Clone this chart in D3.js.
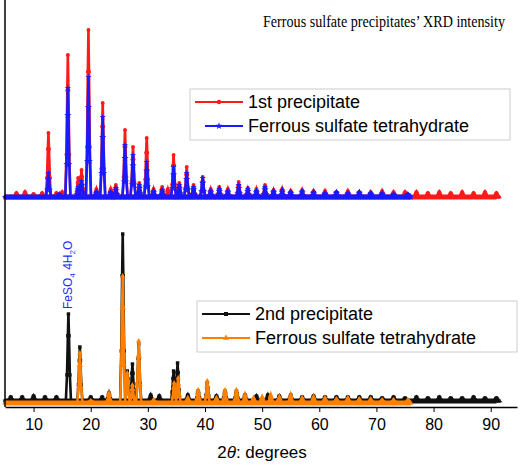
<!DOCTYPE html>
<html><head><meta charset="utf-8">
<script src="https://cdn.jsdelivr.net/npm/d3@7"></script>
<style>body{margin:0;background:#fff}</style>
</head><body>
<svg id="chart" width="520" height="467"></svg>
<script>
// peaks: [2theta, height above baseline]
var redPeaks = [[7,4],[8.5,5],[10,3],[11.5,4],[12.6,64],[14,4],[15,5],[16,142],[17.8,19],[18.4,27],[19.6,167],
  [21,8],[22.1,94],[23.5,8],[24.4,12],[26,67],[27.4,50],[28.5,14],[29.8,59],[31,8],[32.5,10],[33.5,8],[34.5,42],
  [35.5,14],[36.8,30],[38,12],[39.6,20],[41,8],[42.5,10],[44,8],[45.9,15],[47.5,9],[49,8],[50.5,12],[52,7],
  [53.5,8],[55,6],[57,7],[59,6],[61,6],[63,5],[65,6],[67,5],[69,5],[71,6],[73,5],[75,5],[77,5],[79,4],
  [81,5],[83,4],[85,5],[87,4],[89,5],[91,4]];
var bluePeaks = [[12.6,24],[14.5,3],[16,109],[17.8,10],[18.4,16],[19.6,120],[21,5],[22.1,80],[23.5,5],[24.4,9],
  [26,52],[27.4,42],[28.5,12],[29.8,35],[31,6],[32.5,7],[34.5,30],[35.5,12],[36.8,24],[38,10],[39.6,19],
  [41,6],[42.5,8],[44,6],[45.9,12],[47.5,8],[49,6],[50.5,10],[52,6],[53.5,7],[55,5],[57,6],[59,5],[61,4],
  [63,5],[65,4],[67,5],[69,4],[71,4],[73,3],[75.5,3]];
var blackPeaks = [[6,4],[8,4],[10,5],[12,4],[14,4],[16.1,87],[18.1,54],[20,4],[22,4],[23.2,8],[25.6,167],
  [26.4,30],[27.3,37],[28.4,57],[30.5,6],[32,5],[34.5,30],[35.2,38],[37,6],[38.8,10],[40.4,18],[42,5],
  [43.5,10],[45.5,10],[47,6],[49,5],[51,6],[53,5],[55,6],[57,4],[59,5],[61,4],[63,4],[65,4],[67,4],
  [69,4],[71,3],[73,4],[75,3],[77,4],[79,3],[81,4],[83,3],[85,3],[87,4],[89,3],[91,3]];
var orangePeaks = [[18.1,50],[20,2],[23.2,10],[25.6,127],[26.4,30],[27.3,18],[28.4,62],[31,3],[34.6,20],[35.3,25],
  [37,5],[38.8,13],[40.4,22],[42,5],[43.5,13],[45.5,13],[47,8],[48.5,5],[50,6],[51.5,8],[53,6],[55,8],
  [57,5],[59,6],[61,5],[63,4],[65,5],[67,4],[69,4],[71,3],[73,3],[75.5,3]];
var xStart = {red:5, blue:5, black:5, orange:5};
var xEnd = {red:91, blue:76, black:91, orange:76};
var xTicks = [10,20,30,40,50,60,70,80,90];

var svg = d3.select('#chart');
var x = d3.scaleLinear().domain([5, 94.6]).range([5, 517]);
var y = d3.scaleLinear().domain([0, 400]).range([407, 7]);

function series(peaks, x0, x1, base) {
  var pts = [[x0, base]];
  peaks.forEach(function (p) {
    pts.push([p[0] - 0.45, base], [p[0] - 0.25, base + p[1] * 0.3], [p[0] - 0.1, base + p[1] * 0.75],
             [p[0], base + p[1]], [p[0] + 0.1, base + p[1] * 0.75], [p[0] + 0.25, base + p[1] * 0.3],
             [p[0] + 0.45, base]);
  });
  pts.push([x1, base]);
  return pts;
}
var line = d3.line().x(function (d) { return x(d[0]); }).y(function (d) { return y(d[1]); });

function draw(pts, color, marker) {
  svg.append('path').attr('d', line(pts)).attr('fill', 'none')
    .attr('stroke', color).attr('stroke-width', 2.6);
  svg.append('path').attr('d', line([pts[0], pts[pts.length - 1]])).attr('fill', 'none')
    .attr('stroke', color).attr('stroke-width', 5);
  var sym = d3.symbol().type(marker).size(12);
  svg.append('g').selectAll('path').data(pts).enter().append('path')
    .attr('d', sym).attr('fill', color)
    .attr('transform', function (d) { return 'translate(' + x(d[0]) + ',' + y(d[1]) + ')'; });
}
draw(series(redPeaks, xStart.red, xEnd.red, 210), '#ff1a1a', d3.symbolCircle);
draw(series(bluePeaks, xStart.blue, xEnd.blue, 210), '#1a1aff', d3.symbolStar);
draw(series(blackPeaks, xStart.black, xEnd.black, 6), '#111', d3.symbolSquare);
draw(series(orangePeaks, xStart.orange, xEnd.orange, 4), '#ff8000', d3.symbolTriangle);

// axes
svg.append('g').attr('transform', 'translate(0,407)')
  .call(d3.axisBottom(x).tickValues(xTicks).tickSize(5).tickSizeOuter(0))
  .call(function (g) {
    g.select('.domain').attr('stroke-width', 1.5);
    g.selectAll('text').attr('font-family', 'Liberation Sans, Arial').attr('font-size', 16).attr('dy', '0.95em');
  });
svg.append('line').attr('x1', 5).attr('x2', 5).attr('y1', 0).attr('y2', 407)
  .attr('stroke', '#000').attr('stroke-width', 1.5);

svg.append('text').attr('x', 263).attr('y', 27).attr('font-family', "'Liberation Serif', 'Times New Roman', serif")
  .attr('font-size', 17).attr('textLength', 242).attr('lengthAdjust', 'spacingAndGlyphs')
  .text('Ferrous sulfate precipitates’ XRD intensity');

var xl = svg.append('text').attr('x', 262).attr('y', 458).attr('text-anchor', 'middle')
  .attr('font-family', 'Liberation Sans, Arial').attr('font-size', 17);
xl.append('tspan').text('2');
xl.append('tspan').attr('font-style', 'italic').text('θ');
xl.append('tspan').text(': degrees');

svg.append('text').attr('transform', 'translate(72,309) rotate(-90)')
  .attr('font-family', 'Liberation Sans, Arial').attr('font-size', 12).attr('fill', '#2a2aff')
  .html('FeSO<tspan font-size="8" dy="3">4</tspan><tspan dy="-3"> 4H</tspan><tspan font-size="8" dy="3">2</tspan><tspan dy="-3">O</tspan>');

function legend(x0, y0, w, items) {
  var g = svg.append('g');
  g.append('rect').attr('x', x0).attr('y', y0).attr('width', w).attr('height', 51)
    .attr('fill', '#fff').attr('stroke', '#ccc');
  items.forEach(function (it, i) {
    var yy = y0 + 13 + i * 24;
    g.append('line').attr('x1', x0 + (it.indent || 5)).attr('x2', x0 + 53).attr('y1', yy).attr('y2', yy)
      .attr('stroke', it.color).attr('stroke-width', 2.2);
    g.append('path').attr('d', d3.symbol().type(it.marker).size(16)())
      .attr('transform', 'translate(' + (x0 + 29) + ',' + yy + ')').attr('fill', it.color);
    g.append('text').attr('x', x0 + 58).attr('y', yy + 6).attr('font-family', 'Liberation Sans, Arial')
      .attr('font-size', 18).text(it.label);
  });
}
legend(190, 89, 320, [
  {color: '#ff1a1a', marker: d3.symbolCircle, label: '1st precipitate'},
  {color: '#1a1aff', marker: d3.symbolStar, label: 'Ferrous sulfate tetrahydrate', indent: 15}]);
legend(197, 301, 320, [
  {color: '#111', marker: d3.symbolSquare, label: '2nd precipitate'},
  {color: '#ff8000', marker: d3.symbolTriangle, label: 'Ferrous sulfate tetrahydrate'}]);
</script>
</body></html>
